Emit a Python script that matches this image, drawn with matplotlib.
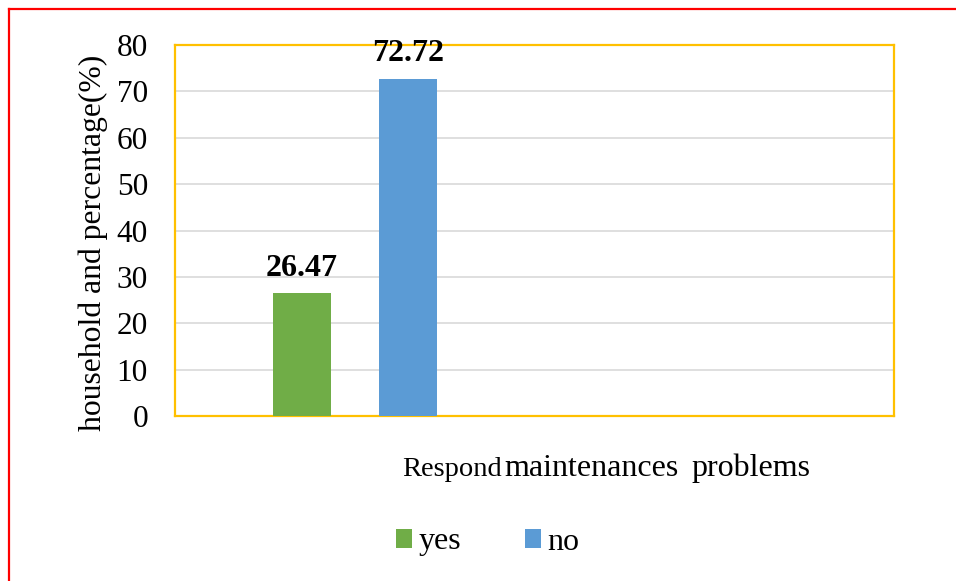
import matplotlib
matplotlib.use("Agg")
import matplotlib.pyplot as plt
from matplotlib.lines import Line2D
from matplotlib.patches import Patch

# Data
series_names = ["yes", "no"]
series_values = [26.47, 72.72]
series_colors = ["#70AD47", "#5B9BD5"]
y_ticks = [0, 10, 20, 30, 40, 50, 60, 70, 80]

plt.rcParams["font.family"] = ["Liberation Serif", "DejaVu Serif"]

W, H = 956, 581
fig = plt.figure(figsize=(W / 100, H / 100), dpi=100)

ax = fig.add_axes([175 / W, 1 - 416 / H, 719 / W, 371 / H])

# Two category slots; the data occupy the first one
group_center = 0.5
offsets = [-0.1475, 0.1475]
bar_width = 0.161
for name, val, col, off in zip(series_names, series_values, series_colors, offsets):
    ax.bar(group_center + off, val, width=bar_width, color=col, zorder=3, label=name)
    ax.annotate(f"{val:.2f}", xy=(group_center + off, val), xytext=(0, 12.5),
                textcoords="offset points", ha="center", va="baseline",
                fontsize=23, fontweight="bold", zorder=10, annotation_clip=False)

ax.set_xlim(0, 2)
ax.set_ylim(0, 80)
ax.set_yticks(y_ticks)
ax.set_yticklabels([str(t) for t in y_ticks], fontsize=22.5)
ax.set_xticks([])
ax.tick_params(axis="y", length=0, pad=19.5)
ax.yaxis.grid(True, color="#d9d9d9", linewidth=1.2, zorder=0)
ax.set_axisbelow(True)
for sp in ax.spines.values():
    sp.set_color("#FFC000")
    sp.set_linewidth(1.6)

ax.set_ylabel("household and percentage(%)", fontsize=22.8)
ax.yaxis.set_label_coords(-0.093, 0.466)

# Axis title with a smaller leading word, all on one baseline
base_y = 1 - 476 / H
fig.text(502 / W, base_y, "Respond", fontsize=20.5, ha="right", va="baseline")
fig.text(504 / W, base_y, "maintenances", fontsize=23, ha="left", va="baseline")
fig.text(691 / W, base_y, "problems", fontsize=23, ha="left", va="baseline")

handles = [Patch(facecolor=c, edgecolor="none") for c in series_colors]
fig.legend(handles, series_names, loc="center", bbox_to_anchor=(488 / W, 1 - 542 / H),
           ncol=2, frameon=False, fontsize=23, handlelength=0.5, handleheight=0.55,
           handletextpad=0.2, columnspacing=2.0)

# Red frame along the top and left edges
fig.add_artist(Line2D([9 / W, 1], [1 - 9 / H, 1 - 9 / H], color="red", linewidth=1.6,
                      transform=fig.transFigure))
fig.add_artist(Line2D([9 / W, 9 / W], [0, 1 - 9 / H], color="red", linewidth=1.6,
                      transform=fig.transFigure))

fig.savefig("out.png", dpi=100)
